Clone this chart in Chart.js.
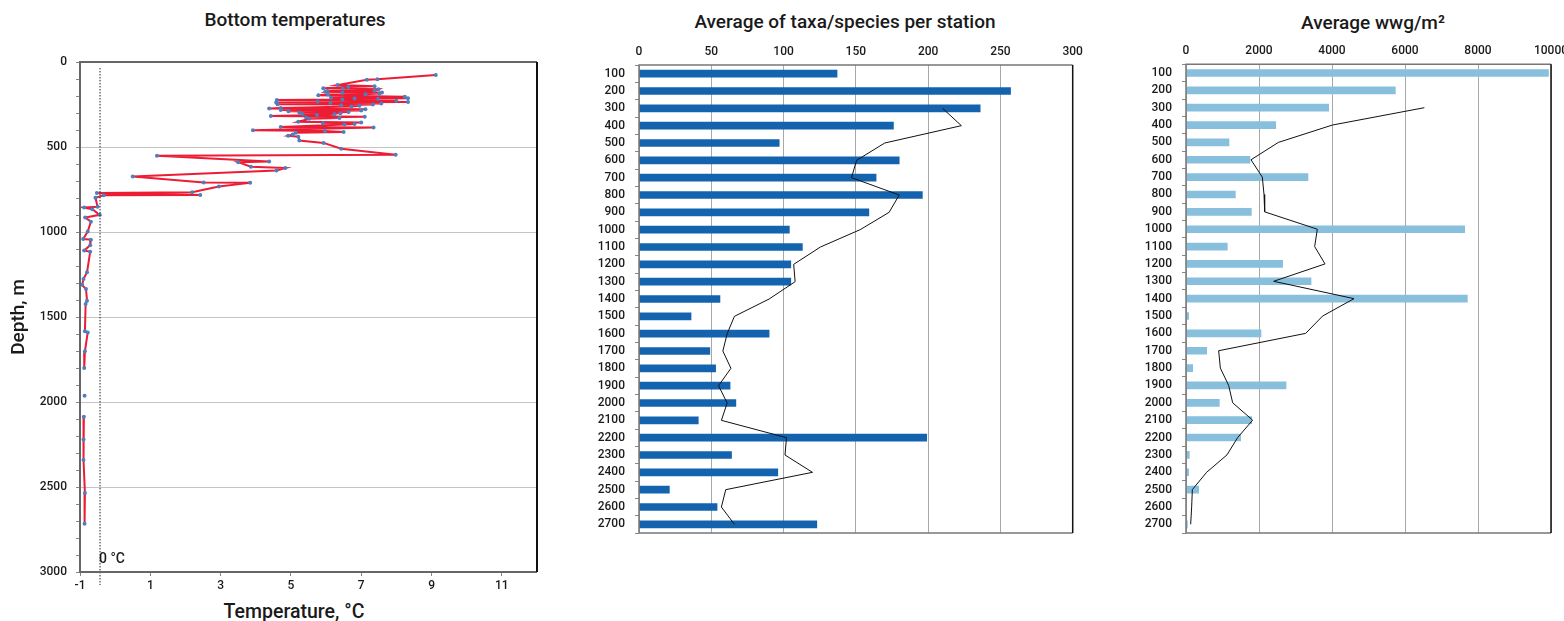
<!DOCTYPE html>
<html lang="en">
<head>
<meta charset="UTF-8">
<title>Bottom temperatures, taxa and biomass by depth</title>
<script src="https://cdn.jsdelivr.net/npm/chart.js"></script>
<style>
    body {
        margin: 0;
        width: 1564px;
        height: 621px;
        overflow: hidden;
        background: #ffffff;
        position: relative;
        font-family: Roboto, sans-serif;
        color: #1a1a1a;
    }
    .panel { position: absolute; top: 0; height: 621px; }
    .title {
        position: absolute;
        font-size: 19px;
        font-weight: 500;
        white-space: nowrap;
        transform: translate(-50%, -50%);
    }
</style>
</head>
<body>
    <div class="title" style="left:295px; top:19px;">Bottom temperatures</div>
    <div class="title" style="left:845px; top:21px;">Average of taxa/species per station</div>
    <div class="title" style="left:1373px; top:22px;">Average wwg/m²</div>
    <div class="title" style="left:294px; top:611px; font-size:19.5px;">Temperature, °C</div>

    <div class="panel" style="left:0; width:560px;"><canvas id="tempChart"></canvas></div>
    <div class="panel" style="left:560px; width:550px;"><canvas id="taxaChart"></canvas></div>
    <div class="panel" style="left:1110px; width:470px;"><canvas id="wwgChart"></canvas></div>

<script>
// ---- Bottom temperature profile (null = gap in the line)
const TEMP_C = [
    9.12, 7.46, 7.16, 6.33, 7.38, 6.63, 5.92, 6.48, 7.49, 7.38, 6.04, 5.98, 7.59, 6.46, 7.52, 7.12, 6.05,
    5.78, 8.24, 6.14, 8.33, 6.81, 7.48, 6.46, 4.60, 8.00, 5.76, 8.33, 4.58, 6.12, 7.57, 4.62, 7.33, 6.43,
    6.95, 6.72, 4.71, 4.38, 7.12, 4.71, 7.00, 4.93, 6.64, 5.24, 6.41, 5.33, 6.24, 5.74, 4.43, 7.10, 5.43,
    6.38, 5.52, 5.21, 7.00, 5.91, 6.81, 6.52, 4.71, 7.35, 3.92, 5.97, 6.50, 5.14, 5.05, 4.92, 5.21, 5.24,
    5.93, 6.43, 7.98, 1.19, 4.38, 3.50, 3.86, 4.84, 4.59, 0.50, 2.52, 3.84, 2.95, 2.19, -0.52, 2.42,
    -0.33, -0.56, -0.50, -0.88, -0.65, -0.44, -0.85, -0.69, -0.78, -0.91, -0.69, -0.71, -0.88, -0.71,
    -0.80, -0.90, -0.94, -0.83, -0.80, -0.84, -0.86, -0.78, -0.86, -0.88, null, -0.87, null, -0.89,
    -0.90, -0.90, -0.86, -0.87
];
const DEPTH_M = [
    77, 102, 104, 136, 142, 147, 155, 157, 160, 169, 170, 175, 180, 183, 186, 189, 191,
    195, 205, 210, 213, 215, 218, 220, 224, 228, 232, 236, 238, 240, 244, 248, 250, 254,
    258, 262, 270, 274, 278, 282, 286, 290, 294, 298, 302, 306, 308, 312, 318, 322, 326,
    330, 334, 352, 356, 360, 364, 368, 382, 386, 402, 406, 412, 416, 426, 434, 440, 462,
    476, 510, 545, 551, 585, 589, 616, 624, 638, 673, 709, 711, 732, 766, 770, 782,
    784, 799, 852, 856, 866, 899, 915, 939, 997, 1041, 1045, 1078, 1109, 1116,
    1237, 1276, 1311, 1335, 1404, 1423, 1584, 1591, 1702, 1800, null, 1963, null, 2087,
    2220, 2341, 2536, 2716
];
const TEMP_TICKS = [-1, 1, 3, 5, 7, 9, 11];
const DEPTH_TICKS = Array.from({length: 31}, (_, i) => i * 100);
const ZERO_REF = -0.43;       // dotted "0 °C" marker as placed in the source
const ZERO_REF_TOP = 35;

// ---- Depth classes for the bar charts
const DEPTH_CLASSES = ['100', '200', '300', '400', '500', '600', '700', '800', '900', '1000', '1100', '1200', '1300', '1400',
    '1500', '1600', '1700', '1800', '1900', '2000', '2100', '2200', '2300', '2400', '2500', '2600', '2700'];
const TAXA_AVG = [137, 257, 236, 176, 97, 180, 164, 196, 159, 104, 113, 105, 105, 56,
    36, 90, 49, 53, 63, 67, 41, 199, 64, 96, 21, 54, 123];
const TAXA_TREND = [null, null, 210, 223, 170, 150.5, 147, 180, 173, 153, 125.5, 107, 108, 90,
    66, 61, 58, 63.6, 55, 61, 57, 102, 101, 120, 60, 57, 66];
const WWG_AVG = [9930, 5735, 3909, 2457, 1178, 1753, 3342, 1352, 1790, 7635, 1132, 2648, 3425, 7708,
    73, 2055, 566, 183, 2740, 913, 1799, 1498, 91, 73, 347, 0, 37];
const WWG_TREND = [null, null, 6530, 4009, 2530, 1781, 2091, 2137, 2155, 3598, 3525, 3808, 2402, 4603,
    3744, 3279, 895, 941, 1169, 1279, 1826, 1416, 1123, 566, 174, 155, 128];

Chart.defaults.font.family = 'Roboto, sans-serif';
Chart.defaults.color = '#1a1a1a';

const tickFont = {size: 12, weight: '500'};

// plot frame around the chart area
const framePlugin = {
    id: 'frame',
    afterDraw(chart, args, opts) {
        const {ctx, chartArea: a} = chart;
        ctx.save();
        ctx.lineWidth = opts.width || 2;
        ctx.strokeStyle = opts.color || '#666';
        ctx.beginPath();
        ctx.moveTo(a.right, a.bottom);
        ctx.lineTo(a.left, a.bottom);
        ctx.lineTo(a.left, a.top);
        ctx.lineTo(a.right, a.top);
        ctx.stroke();
        ctx.strokeStyle = opts.rightColor || '#111';
        ctx.beginPath();
        ctx.moveTo(a.right, a.top);
        ctx.lineTo(a.right, a.bottom);
        ctx.stroke();
        ctx.restore();
    }
};

// dotted reference line with its "0 °C" label
const zeroLinePlugin = {
    id: 'zeroLine',
    afterDatasetsDraw(chart) {
        const {ctx, chartArea: a, scales: {x, y}} = chart;
        const px = x.getPixelForValue(ZERO_REF);
        ctx.save();
        ctx.strokeStyle = '#222';
        ctx.lineWidth = 1;
        ctx.setLineDash([1.5, 1.5]);
        ctx.beginPath();
        ctx.moveTo(px, y.getPixelForValue(ZERO_REF_TOP));
        ctx.lineTo(px, a.bottom + 13);
        ctx.stroke();
        ctx.setLineDash([]);
        ctx.fillStyle = '#1a1a1a';
        ctx.font = '500 14px Roboto, sans-serif';
        ctx.textBaseline = 'middle';
        ctx.fillText('0 °C', px - 1, a.bottom - 13);
        ctx.restore();
    }
};

new Chart(document.getElementById('tempChart'), {
    type: 'scatter',
    data: {
        datasets: [{
            data: TEMP_C.map((t, i) => ({x: t, y: DEPTH_M[i]})),
            showLine: true,
            spanGaps: false,
            borderColor: '#ec1c35',
            borderWidth: 2,
            pointRadius: 2,
            pointBackgroundColor: '#4f7fbf',
            pointBorderWidth: 0
        }]
    },
    options: {
        responsive: true,
        maintainAspectRatio: false,
        animation: false,
        layout: {padding: {top: 62, right: 23, left: 0, bottom: 0}},
        plugins: {legend: {display: false}, tooltip: {enabled: false}, frame: {color: '#666', rightColor: '#111'}},
        scales: {
            x: {
                type: 'linear', position: 'bottom', min: -1, max: 12,
                afterBuildTicks: s => { s.ticks = TEMP_TICKS.map(v => ({value: v})); },
                afterFit: s => { s.height = 49; },
                grid: {drawOnChartArea: false, tickLength: 4, tickColor: '#888'},
                border: {display: false},
                ticks: {font: tickFont, padding: 3, autoSkip: false, maxRotation: 0}
            },
            y: {
                type: 'linear', reverse: true, min: 0, max: 3000,
                afterBuildTicks: s => { s.ticks = DEPTH_TICKS.map(v => ({value: v})); },
                afterFit: s => { s.width = 80; },
                grid: {
                    color: c => (c.tick && c.tick.value % 500 === 0) ? '#c4c4c4' : 'rgba(0,0,0,0)',
                    tickColor: '#888', tickLength: 4
                },
                border: {display: false},
                ticks: {
                    font: tickFont, padding: 9, autoSkip: false,
                    callback: v => (v % 500 === 0 ? v : '')
                },
                title: {display: true, text: 'Depth, m', font: {size: 19, weight: '500', lineHeight: 1}, padding: {top: 10, bottom: 0}, color: '#1a1a1a'}
            }
        }
    },
    plugins: [framePlugin, zeroLinePlugin]
});

function depthBarChart(id, bars, trend, barColor, xMax, xStep, rightPad, axisTop, yWidth) {
    return new Chart(document.getElementById(id), {
        data: {
            labels: DEPTH_CLASSES,
            datasets: [
                {
                    type: 'line', indexAxis: 'y', data: trend, order: 0,
                    borderColor: '#111', borderWidth: 1, pointRadius: 0, tension: 0, spanGaps: false
                },
                {
                    type: 'bar', indexAxis: 'y', data: bars, order: 1,
                    backgroundColor: barColor, barThickness: 7, borderWidth: 0
                }
            ]
        },
        options: {
            indexAxis: 'y',
            responsive: true,
            maintainAspectRatio: false,
            animation: false,
            layout: {padding: {top: 0, right: rightPad, left: 0, bottom: 88}},
            plugins: {legend: {display: false}, tooltip: {enabled: false}, frame: {width: 1.5, color: '#777', rightColor: '#111'}},
            scales: {
                x: {
                    type: 'linear', position: 'top', min: 0, max: xMax,
                    ticks: {stepSize: xStep, font: tickFont, padding: 6, maxRotation: 0, callback: v => String(v)},
                    afterFit: s => { s.height = axisTop; },
                    grid: {color: '#a8a8a8', drawTicks: false},
                    border: {display: false}
                },
                y: {
                    type: 'category',
                    afterFit: s => { s.width = yWidth; },
                    grid: {offset: true, drawOnChartArea: false, tickLength: 4, tickColor: '#888'},
                    border: {display: false},
                    ticks: {font: tickFont, padding: 10, autoSkip: false}
                }
            }
        },
        plugins: [framePlugin]
    });
}

depthBarChart('taxaChart', TAXA_AVG, TAXA_TREND, '#1463ae', 300, 50, 37.3, 65, 79);
depthBarChart('wwgChart', WWG_AVG, WWG_TREND, '#87bfdc', 10000, 2000, 29, 64.3, 76);
</script>
</body>
</html>
